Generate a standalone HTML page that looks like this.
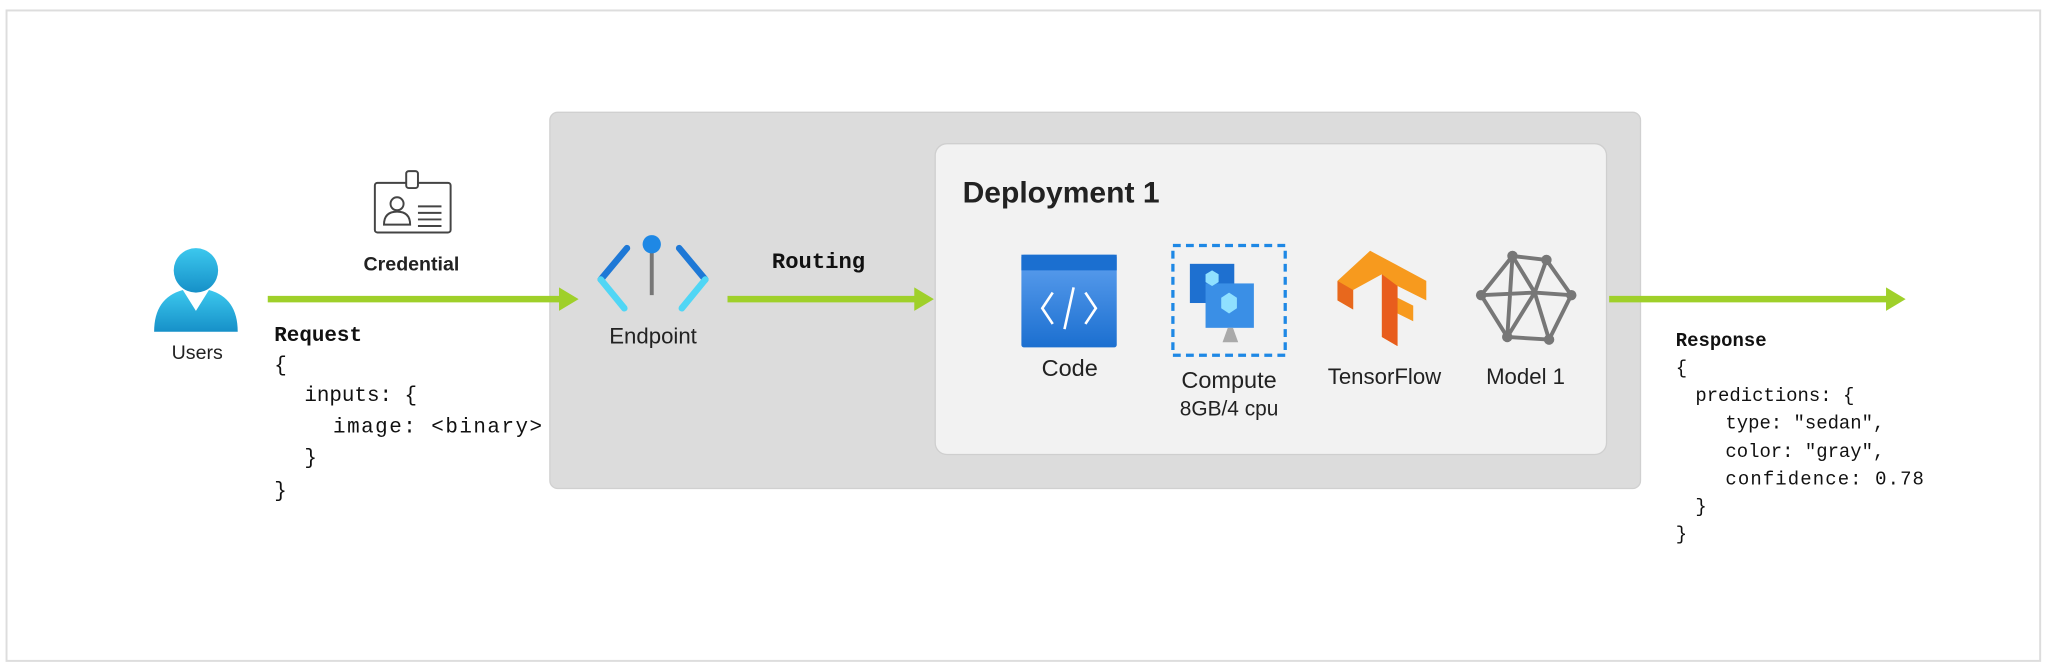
<!DOCTYPE html>
<html><head><meta charset="utf-8"><style>
html,body{margin:0;padding:0;background:#fff;width:2048px;height:672px;overflow:hidden}
svg{display:block}
.s{font-family:"Liberation Sans",sans-serif;fill:#222}
.m{font-family:"Liberation Mono",monospace;fill:#111}
</style></head><body>
<svg width="2048" height="672" viewBox="0 0 1568 514.5" preserveAspectRatio="none" xmlns="http://www.w3.org/2000/svg">
<defs>
<linearGradient id="ug" x1="0" y1="0" x2="0" y2="1"><stop offset="0" stop-color="#3cc8ee"/><stop offset="1" stop-color="#1690c8"/></linearGradient>
<linearGradient id="cg" x1="0" y1="0" x2="0" y2="1"><stop offset="0" stop-color="#5ea0ef"/><stop offset="1" stop-color="#1b6fd0"/></linearGradient>
</defs>
<rect x="5" y="8" width="1557" height="498" fill="#fff" stroke="#ddd" stroke-width="1.5"/>
<rect x="421" y="86" width="835" height="288" rx="6" fill="#dcdcdc" stroke="#d0d0d0"/>
<rect x="716" y="110" width="514" height="238" rx="9" fill="#f2f2f2" stroke="#cfcfcf"/>
<!-- arrows -->
<g fill="#9fd02a" stroke="#9fd02a">
<line x1="205" y1="229" x2="430" y2="229" stroke-width="5"/><polygon points="428,220 443,229 428,238" stroke="none"/>
<line x1="557" y1="229" x2="702" y2="229" stroke-width="5"/><polygon points="700,220 715,229 700,238" stroke="none"/>
<line x1="1232" y1="229" x2="1446" y2="229" stroke-width="5"/><polygon points="1444,220 1459,229 1444,238" stroke="none"/>
</g>
<!-- users -->
<circle cx="150" cy="207" r="17" fill="url(#ug)"/>
<path d="M118,254 Q118,228 140,222 L150,238 L160,222 Q182,228 182,254 Z" fill="url(#ug)"/>
<text x="151" y="275" class="s" font-size="15" text-anchor="middle" fill="#333">Users</text>
<!-- credential -->
<rect x="287" y="140" width="58" height="38" rx="2" fill="#fff" stroke="#444" stroke-width="1.5"/>
<rect x="311" y="131" width="9" height="13" rx="2" fill="#fff" stroke="#444" stroke-width="1.5"/>
<circle cx="304" cy="156" r="5" fill="none" stroke="#444" stroke-width="1.5"/>
<path d="M294,172 Q294,162 304,162 Q314,162 314,172 Z" fill="none" stroke="#444" stroke-width="1.5"/>
<g stroke="#444" stroke-width="1.5"><line x1="320" y1="158" x2="338" y2="158"/><line x1="320" y1="163" x2="338" y2="163"/><line x1="320" y1="168" x2="338" y2="168"/><line x1="320" y1="173" x2="338" y2="173"/></g>
<text x="315" y="207" class="s" font-size="15" font-weight="bold" text-anchor="middle">Credential</text>
<!-- request -->
<g class="m" font-size="16">
<text x="210" y="261" font-weight="bold">Request</text>
<text x="210" y="284">{</text>
<text x="233" y="307">inputs: {</text>
<text x="255" y="331" textLength="160">image: &lt;binary&gt;</text>
<text x="233" y="355">}</text>
<text x="210" y="380">}</text>
</g>
<!-- endpoint -->
<g stroke-width="5" fill="none" stroke-linecap="round">
<path d="M480,190 L460,214" stroke="#1e78d6"/><path d="M460,214 L478,236" stroke="#50d6f5"/>
<path d="M520,190 L540,214" stroke="#1e78d6"/><path d="M540,214 L522,236" stroke="#50d6f5"/>
</g>
<line x1="499" y1="190" x2="499" y2="226" stroke="#777" stroke-width="3"/>
<circle cx="499" cy="187" r="7" fill="#1e88e5"/>
<text x="500" y="263" class="s" font-size="17" text-anchor="middle">Endpoint</text>
<text x="591" y="205" class="m" font-size="17" font-weight="bold">Routing</text>
<text x="737" y="155" class="s" font-size="23" font-weight="bold" fill="#111">Deployment 1</text>
<!-- code -->
<rect x="782" y="195" width="73" height="71" rx="2" fill="url(#cg)"/>
<rect x="782" y="195" width="73" height="12" fill="#1b6fd0"/>
<g stroke="#fff" stroke-width="2" fill="none"><path d="M806,224 L798,236 L806,248"/><path d="M831,224 L839,236 L831,248"/><path d="M822,220 L815,252"/></g>
<text x="819" y="288" class="s" font-size="18" text-anchor="middle">Code</text>
<!-- compute -->
<rect x="898" y="188" width="86" height="84" fill="none" stroke="#1e88e5" stroke-width="2.5" stroke-dasharray="6,4"/>
<rect x="911" y="202" width="34" height="30" fill="#1e70d0"/>
<rect x="923" y="217" width="37" height="34" fill="#3a8fe6"/>
<path d="M940,251 L936,262 L948,262 L944,251Z" fill="#aaa"/>
<path d="M941,224 l6,4 v8 l-6,4 l-6,-4 v-8z" fill="#8fe0ff"/>
<path d="M928,207 l5,3 v6 l-5,3 l-5,-3 v-6z" fill="#8fe0ff"/>
<text x="941" y="297" class="s" font-size="18" text-anchor="middle">Compute</text>
<text x="941" y="318" class="s" font-size="16" text-anchor="middle" fill="#333">8GB/4 cpu</text>
<!-- tensorflow -->
<path d="M1049,192 L1092,215 L1092,230 L1070,219 L1070,228 L1082,234 L1082,246 L1070,240 L1070,265 L1058,258 L1058,210 L1036,222 L1036,237 L1024,230 L1024,215 Z" fill="#f79a1e"/>
<path d="M1058,210 L1058,258 L1070,265 L1070,219 Z" fill="#e85d1d"/>
<path d="M1024,215 L1024,230 L1036,237 L1036,222Z" fill="#e8681d"/>
<text x="1060" y="294" class="s" font-size="17" text-anchor="middle">TensorFlow</text>
<!-- model -->
<g stroke="#777" stroke-width="3" fill="none" stroke-linejoin="round">
<polygon points="1158,196 1184,199 1203,226 1186,260 1154,258 1134,226"/>
<path d="M1158,196 L1175,224 L1184,199 M1175,224 L1203,226 M1175,224 L1186,260 M1175,224 L1154,258 M1158,196 L1154,258 M1134,226 L1175,224"/>
</g>
<g fill="#777"><circle cx="1158" cy="196" r="4"/><circle cx="1184" cy="199" r="4"/><circle cx="1203" cy="226" r="4"/><circle cx="1186" cy="260" r="4"/><circle cx="1154" cy="258" r="4"/><circle cx="1134" cy="226" r="4"/></g>
<text x="1168" y="294" class="s" font-size="17" text-anchor="middle">Model 1</text>
<!-- response -->
<g class="m" font-size="14.5">
<text x="1283" y="265" font-weight="bold">Response</text>
<text x="1283" y="286">{</text>
<text x="1298" y="307">predictions: {</text>
<text x="1321" y="328">type: "sedan",</text>
<text x="1321" y="350">color: "gray",</text>
<text x="1321" y="371" textLength="152">confidence: 0.78</text>
<text x="1298" y="392">}</text>
<text x="1283" y="413">}</text>
</g>
</svg>
</body></html>
